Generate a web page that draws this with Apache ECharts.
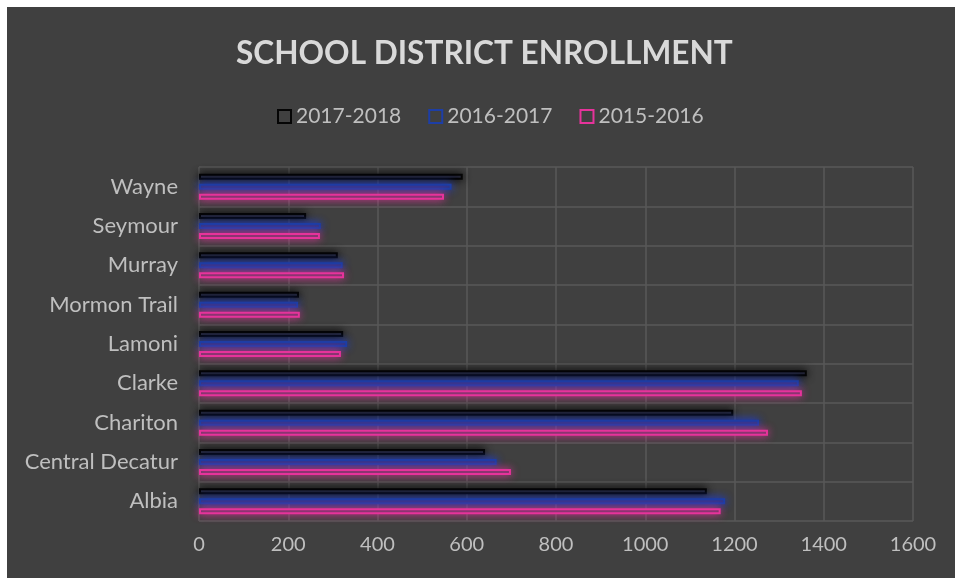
<!DOCTYPE html>
<html>
<head>
<meta charset="utf-8">
<script src="https://cdn.jsdelivr.net/npm/echarts@6/dist/echarts.min.js"></script>
<style>
html,body{margin:0;padding:0;background:#ffffff;width:955px;height:578px;overflow:hidden;}
#chart{position:absolute;left:7px;top:7px;width:948px;height:571px;}
</style>
</head>
<body>
<div id="chart"></div>
<script>
const categories = ['Albia','Central Decatur','Chariton','Clarke','Lamoni','Mormon Trail','Murray','Seymour','Wayne'];
const seriesNames = ['2017-2018','2016-2017','2015-2016'];
const values2017_2018 = [1138, 641, 1197, 1362, 323, 224, 311, 240, 591];
const values2016_2017 = [1179, 667, 1255, 1344, 332, 222, 322, 273, 566];
const values2015_2016 = [1169, 699, 1275, 1351, 318, 226, 325, 271, 549];
const xTicks = [0,200,400,600,800,1000,1200,1400,1600];

const styles = [
  {fill:'#2f3147', border:'#050505', glow:'rgba(0,0,0,0.9)'},
  {fill:'#3a3670', border:'#1d3ea6', glow:'rgba(30,60,210,0.95)'},
  {fill:'#6a3762', border:'#e6339b', glow:'rgba(230,50,155,0.8)'}
];
const dataSets = [values2017_2018, values2016_2017, values2015_2016];

const chart = echarts.init(document.getElementById('chart'));
const font = 'Lato, "Open Sans", sans-serif';
chart.setOption({
  backgroundColor:'#404040',
  animation:false,
  title:{
    text:'SCHOOL DISTRICT ENROLLMENT',
    left:224, top:26,
    textStyle:{color:'#d9d9d9', fontSize:31.6, fontWeight:'bold', fontFamily:font}
  },
  legend:{
    top:94, left:265,
    itemWidth:13, itemHeight:13, itemGap:27,
    icon:'rect',
    textStyle:{color:'#bfbfbf', fontSize:21, fontFamily:font},
    data: seriesNames.map((n,i)=>({name:n, itemStyle:{color:'transparent', borderColor:styles[i].border, borderWidth:2, shadowBlur:0}}))
  },
  grid:{left:192, right:42, top:160, bottom:57, containLabel:false},
  xAxis:{
    type:'value', min:0, max:1600, interval:200,
    axisLine:{show:false}, axisTick:{show:false},
    axisLabel:{color:'#bfbfbf', fontSize:20, fontFamily:font, margin:14,
      formatter:v=> xTicks.includes(v) ? String(v) : ''},
    splitLine:{show:true, lineStyle:{color:'#595959', width:1.5}}
  },
  yAxis:{
    type:'category', data:categories,
    axisLine:{show:false}, axisTick:{show:false},
    axisLabel:{color:'#bfbfbf', fontSize:22, fontFamily:font, margin:21},
    splitLine:{show:true, lineStyle:{color:'#595959', width:1.5}}
  },
  series: seriesNames.map((n,i)=>({
    name:n, type:'bar', data:dataSets[i],
    barWidth:6, barGap:'66%',
    itemStyle:{color:styles[i].fill, borderColor:styles[i].border, borderWidth:2,
      shadowBlur:8, shadowColor:styles[i].glow}
  }))
});
</script>
</body>
</html>
